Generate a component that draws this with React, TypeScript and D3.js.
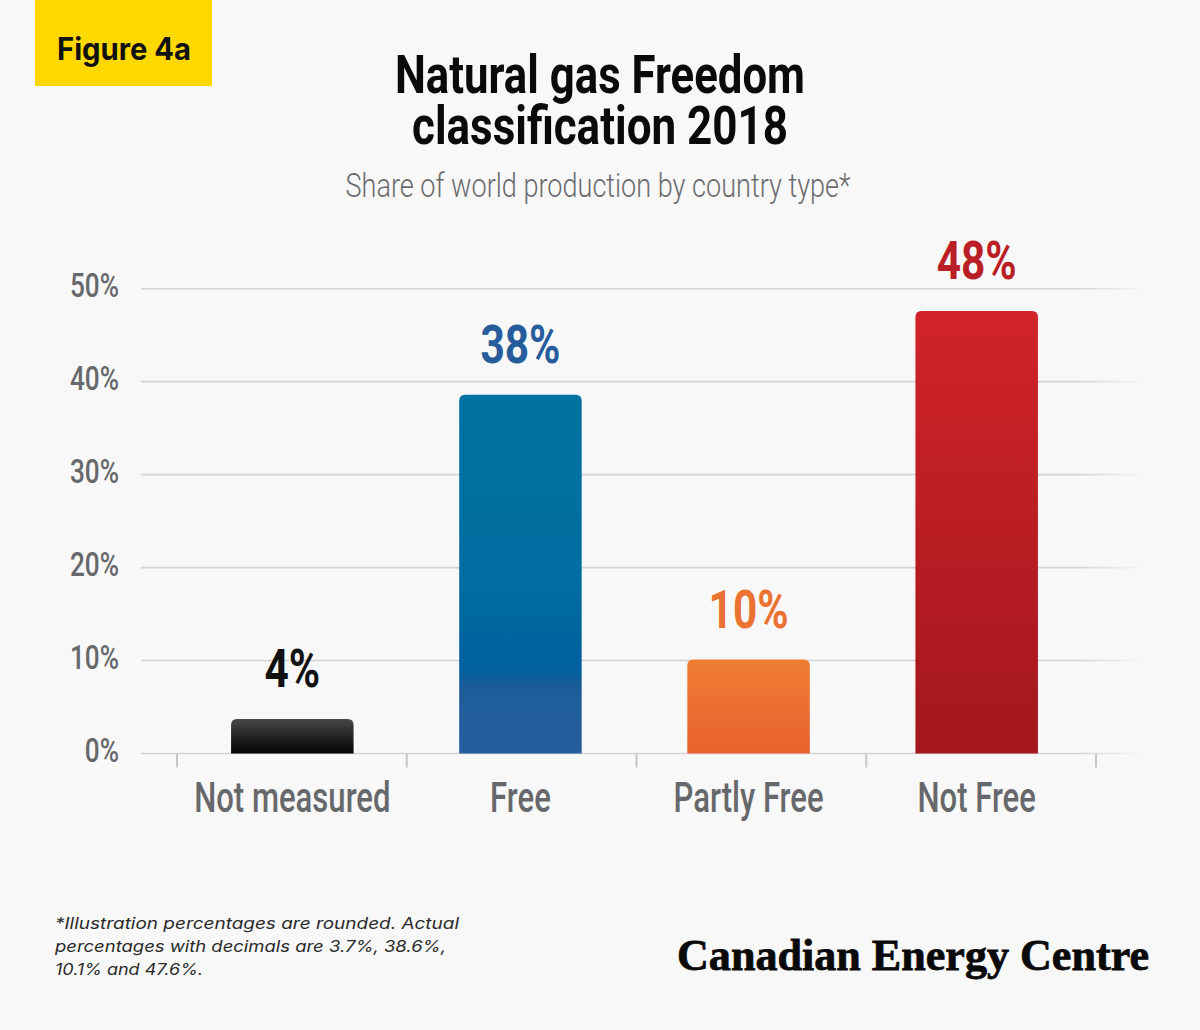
import React from "react";
import * as d3 from "d3";

// ---- data ----
const categories = ["Not measured", "Free", "Partly Free", "Not Free"];
const shares = [3.7, 38.6, 10.1, 47.6];
const valueLabels = ["4%", "38%", "10%", "48%"];
const yTicks = [0, 10, 20, 30, 40, 50];
const titleLines = ["Natural gas Freedom", "classification 2018"];
const subtitle = "Share of world production by country type*";
const footnoteLines = [
  "*Illustration percentages are rounded. Actual",
  "percentages with decimals are 3.7%, 38.6%,",
  "10.1% and 47.6%.",
];
const figureLabel = "Figure 4a";
const brand = "Canadian Energy Centre";

// ---- styles ----
const W = 1200;
const H = 1030;
const BG = "#f8f8f8";
const GREY = "#67686c";
const barGradients: { offset: number; color: string }[][] = [
  [
    { offset: 0, color: "#474747" },
    { offset: 1, color: "#020202" },
  ],
  [
    { offset: 0, color: "#0073a1" },
    { offset: 0.5, color: "#006ea0" },
    { offset: 0.76, color: "#00619d" },
    { offset: 0.82, color: "#1d5c9a" },
    { offset: 1, color: "#255e9c" },
  ],
  [
    { offset: 0, color: "#ef7e34" },
    { offset: 1, color: "#e8602e" },
  ],
  [
    { offset: 0, color: "#d1232a" },
    { offset: 1, color: "#a2171d" },
  ],
];
const labelColors = ["#111111", "#265c9c", "#ec7232", "#bb1f26"];

const COND = "Roboto, 'Liberation Sans', sans-serif";

function topRoundedBar(x: number, y: number, w: number, h: number, r: number) {
  const rr = Math.min(r, h, w / 2);
  return `M${x},${y + h}V${y + rr}Q${x},${y} ${x + rr},${y}H${x + w - rr}Q${x + w},${y} ${x + w},${y + rr}V${y + h}Z`;
}

export default function App() {
  const y = d3.scaleLinear().domain([0, 50]).range([753.5, 288.7]);
  const xBar = d3
    .scaleBand<string>()
    .domain(categories)
    .range([177, 1092])
    .paddingInner(0.463)
    .paddingOuter(0.237);
  const tickX = d3
    .scalePoint<number>()
    .domain(d3.range(categories.length + 1))
    .range([177, 1096]);

  const gridX0 = 141;
  const gridX1 = 1146;

  return (
    <svg
      width={W}
      height={H}
      viewBox={`0 0 ${W} ${H}`}
      style={{ position: "absolute", left: 0, top: 0, display: "block" }}
    >
      <defs>
        <linearGradient id="gridFade" gradientUnits="userSpaceOnUse" x1={gridX0} x2={gridX1} y1={0} y2={0}>
          <stop offset={0} stopColor="#d3d3d3" stopOpacity={1} />
          <stop offset={0.93} stopColor="#d3d3d3" stopOpacity={1} />
          <stop offset={1} stopColor="#d3d3d3" stopOpacity={0} />
        </linearGradient>
        {barGradients.map((stops, i) => (
          <linearGradient key={i} id={`bar${i}`} x1={0} x2={0} y1={0} y2={1}>
            {stops.map((s, j) => (
              <stop key={j} offset={s.offset} stopColor={s.color} />
            ))}
          </linearGradient>
        ))}
      </defs>

      <rect x={0} y={0} width={W} height={H} fill={BG} />

      {/* Figure label */}
      <rect x={35} y={0} width={177} height={86} fill="#ffd800" />
      <text
        x={57}
        y={60}
        fontFamily="Inter, 'Noto Sans', sans-serif"
        fontWeight={700}
        fontSize={31}
        fill="#111"
        textLength={134}
        lengthAdjust="spacingAndGlyphs"
      >
        {figureLabel}
      </text>

      {/* Title */}
      {titleLines.map((t, i) => (
        <text
          key={i}
          x={600}
          y={93 + i * 51}
          textAnchor="middle"
          fontFamily={COND}
          fontWeight={700}
          fontSize={50}
          fill="#0a0a0a"
          textLength={i === 0 ? 410 : 376}
          lengthAdjust="spacingAndGlyphs"
          transform={`translate(0,${93 + i * 51}) scale(1,1.07) translate(0,${-(93 + i * 51)})`}
        >
          {t}
        </text>
      ))}
      <text
        x={598}
        y={197}
        textAnchor="middle"
        fontFamily={COND}
        fontWeight={300}
        fontSize={34}
        fill="#6a6b6e"
        textLength={505}
        lengthAdjust="spacingAndGlyphs"
      >
        {subtitle}
      </text>

      {/* Gridlines */}
      {yTicks.map((t) => (
        <line
          key={t}
          x1={gridX0}
          x2={gridX1}
          y1={y(t)}
          y2={y(t)}
          stroke="url(#gridFade)"
          strokeWidth={1.6}
        />
      ))}
      {/* Y labels */}
      {yTicks.map((t) => (
        <text
          key={t}
          transform={`translate(119,${y(t) + 8}) scale(0.77,1)`}
          textAnchor="end"
          fontFamily={COND}
          fontWeight={500}
          fontSize={34}
          fill={GREY}
        >
          {`${t}%`}
        </text>
      ))}

      {/* X tick marks */}
      {tickX.domain().map((i) => (
        <line
          key={i}
          x1={tickX(i)}
          x2={tickX(i)}
          y1={y(0)}
          y2={y(0) + 14}
          stroke="#c6c6c6"
          strokeWidth={2}
        />
      ))}

      {/* Bars */}
      {categories.map((c, i) => {
        const x0 = xBar(c)!;
        const top = y(shares[i]);
        return (
          <path
            key={c}
            d={topRoundedBar(x0, top, xBar.bandwidth(), y(0) - top, 6)}
            fill={`url(#bar${i})`}
          />
        );
      })}

      {/* Value labels */}
      {categories.map((c, i) => (
        <text
          key={c}
          transform={`translate(${xBar(c)! + xBar.bandwidth() / 2},${y(shares[i]) - 32}) scale(0.8,1)`}
          textAnchor="middle"
          fontFamily={COND}
          fontWeight={700}
          fontSize={53}
          fill={labelColors[i]}
        >
          {valueLabels[i]}
        </text>
      ))}

      {/* Category labels */}
      {categories.map((c) => (
        <text
          key={c}
          transform={`translate(${xBar(c)! + xBar.bandwidth() / 2},812) scale(0.74,1)`}
          textAnchor="middle"
          fontFamily={COND}
          fontWeight={500}
          fontSize={42}
          fill={GREY}
        >
          {c}
        </text>
      ))}

      {/* Footnote */}
      {footnoteLines.map((l, i) => (
        <text
          key={i}
          x={55}
          y={929 + i * 23}
          fontFamily="Inter, 'Noto Sans', sans-serif"
          fontStyle="italic"
          fontWeight={400}
          fontSize={16}
          fill="#2a2a2a"
          textLength={i === 0 ? 404 : i === 1 ? 391 : 148}
          lengthAdjust="spacingAndGlyphs"
        >
          {l}
        </text>
      ))}

      {/* Brand */}
      <text
        x={677}
        y={970}
        fontFamily="'Liberation Serif', 'DejaVu Serif', serif"
        fontWeight={700}
        fontSize={45}
        fill="#0a0a0a"
        stroke="#0a0a0a"
        strokeWidth={0.8}
        textLength={472}
        lengthAdjust="spacingAndGlyphs"
      >
        {brand}
      </text>
    </svg>
  );
}
